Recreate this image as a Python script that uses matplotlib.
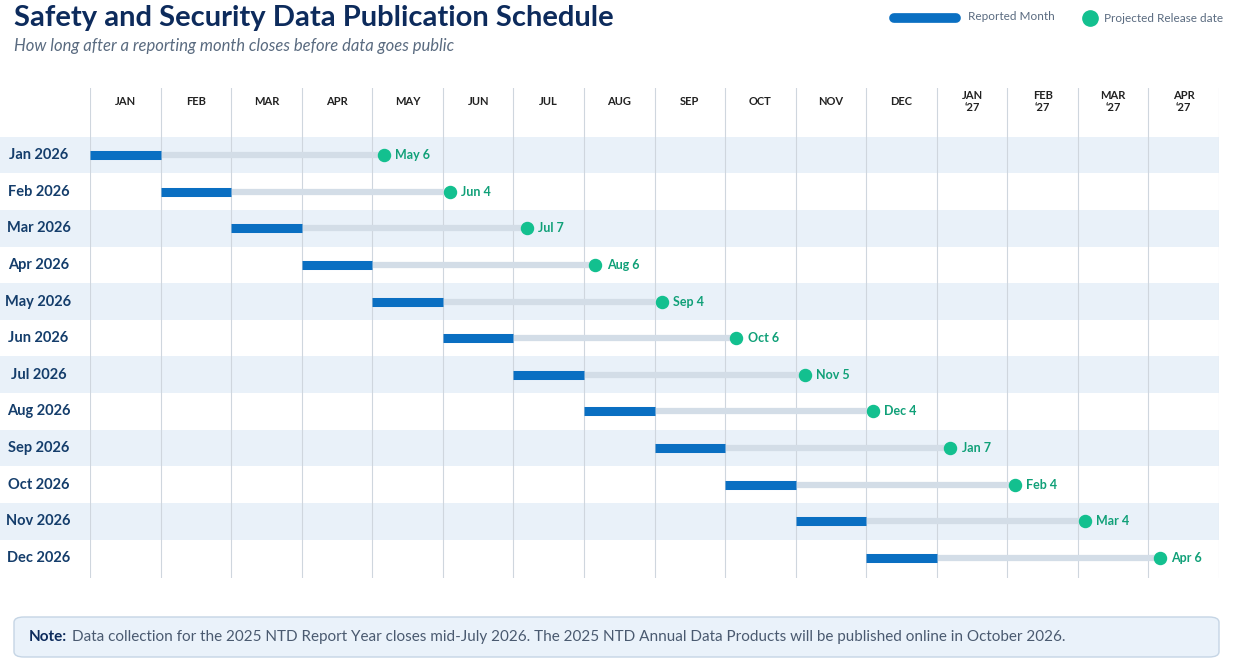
import matplotlib
matplotlib.use("Agg")
import matplotlib.pyplot as plt
from matplotlib.patches import FancyBboxPatch

plt.rcParams['font.family'] = ['Lato', 'DejaVu Sans']

rows = ["Jan 2026","Feb 2026","Mar 2026","Apr 2026","May 2026","Jun 2026",
        "Jul 2026","Aug 2026","Sep 2026","Oct 2026","Nov 2026","Dec 2026"]
cols = ["JAN","FEB","MAR","APR","MAY","JUN","JUL","AUG","SEP","OCT","NOV","DEC",
        "JAN\n\u201827","FEB\n\u201827","MAR\n\u201827","APR\n\u201827"]
release_month = [4,5,6,7,8,9,10,11,12,13,14,15]   # index into cols
release_day = [6,4,7,6,4,6,5,4,7,4,4,6]
release_lbl = ["May 6","Jun 4","Jul 7","Aug 6","Sep 4","Oct 6","Nov 5","Dec 4","Jan 7","Feb 4","Mar 4","Apr 6"]
month_days = [31,28,31,30,31,30,31,31,30,31,30,31,31,28,31,30]

W, H = 1237, 659
fig = plt.figure(figsize=(W/100, H/100), dpi=100)
fig.patch.set_facecolor("white")
L, R, T, B = 90, 1219, 88, 578
ax = fig.add_axes([L/W, 1-B/H, (R-L)/W, (B-T)/H])
ax.set_xlim(0, 16)
ax.set_ylim(11.55, -1.83)
ax.axis("off")

navy = "#143d6b"
for i in range(12):
    if i % 2 == 0:
        ax.barh(i, 16 + L/((R-L)/16), left=-L/((R-L)/16), height=1.0,
                color="#e9f1f9", clip_on=False, zorder=0)
for c in range(17):
    ax.plot([c, c], [-1.83, 11.55], color="#cfd6de", lw=0.8, zorder=1)
for c, lab in enumerate(cols):
    ax.text(c + 0.5, -1.45, lab, ha="center", va="center", fontsize=8,
            fontweight="bold", color="#222", linespacing=1.1)

for i, r in enumerate(rows):
    ax.text(-0.73, i, r, ha="center", va="center", fontsize=10.5,
            fontweight="bold", color=navy, clip_on=False)
    rx = release_month[i] + (release_day[i]-1)/month_days[release_month[i]]
    ax.plot([i+1, rx], [i, i], color="#d3dde7", lw=4.5, solid_capstyle="butt", zorder=2)
    ax.plot([i, i+1], [i, i], color="#0a6fc2", lw=6.5, solid_capstyle="butt", zorder=3)
    ax.scatter([rx], [i], s=75, color="#13c08f", zorder=4)
    ax.text(rx + 0.16, i, release_lbl[i], ha="left", va="center", fontsize=9,
            fontweight="bold", color="#10a078", clip_on=False)

fig.text(14/W, 1-18/H, "Safety and Security Data Publication Schedule", fontsize=21,
         fontweight="bold", color="#0d2b5c", va="center")
fig.text(14/W, 1-46/H, "How long after a reporting month closes before data goes public",
         fontsize=12, style="italic", color="#5a6b80", va="center")

fig.add_artist(plt.Line2D([894/W, 956/W], [1-18/H]*2, color="#0a6fc2", lw=7,
                          solid_capstyle="round"))
fig.text(968/W, 1-16/H, "Reported Month", fontsize=8.5, color="#5a6b80", va="center")
fig.add_artist(plt.Line2D([1090/W], [1-18/H], marker="o", ms=11, color="#13c08f", lw=0))
fig.text(1104/W, 1-18/H, "Projected Release date", fontsize=8.5, color="#5a6b80", va="center")

box = FancyBboxPatch((14/W, 1-657/H), (1219-14)/W, 40/H, boxstyle="round,pad=0,rounding_size=0.008",
                     transform=fig.transFigure, facecolor="#eaf2fa", edgecolor="#c5d5e5", lw=1)
fig.add_artist(box)
fig.text(29/W, 1-637/H, "Note:", fontsize=11, fontweight="bold", color="#0d2b5c", va="center")
fig.text(72/W, 1-637/H, "Data collection for the 2025 NTD Report Year closes mid-July 2026. "
         "The 2025 NTD Annual Data Products will be published online in October 2026.",
         fontsize=11, color="#4a5a70", va="center")

fig.savefig("out.png", dpi=100)
